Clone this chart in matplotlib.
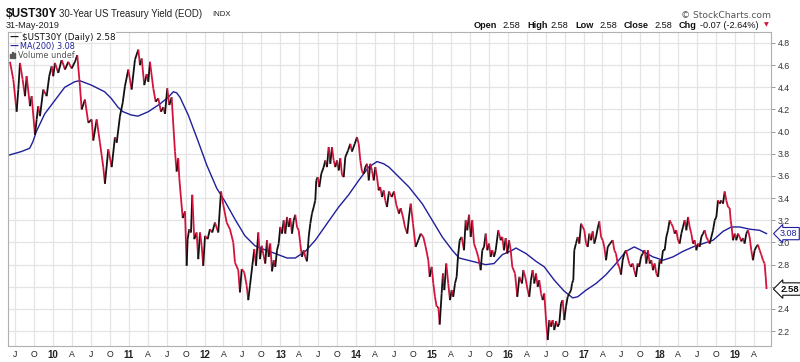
import numpy as np
import matplotlib
matplotlib.use("Agg")
import matplotlib.pyplot as plt
import matplotlib.transforms as mtransforms
from matplotlib.collections import LineCollection
from matplotlib.patches import Rectangle

# $UST30Y close: decimal year, yield (%)
yr = [2009.433, 2009.477, 2009.521, 2009.543, 2009.565, 2009.600, 2009.631, 2009.653, 2009.697, 2009.719,
      2009.763, 2009.785, 2009.806, 2009.829, 2009.872, 2009.917, 2009.951, 2009.983, 2010.004, 2010.026,
      2010.070, 2010.115, 2010.159, 2010.202, 2010.247, 2010.290, 2010.321, 2010.356, 2010.379, 2010.422,
      2010.466, 2010.511, 2010.532, 2010.577, 2010.620, 2010.664, 2010.686, 2010.730, 2010.775, 2010.818,
      2010.841, 2010.884, 2010.920, 2010.950, 2010.994, 2011.038, 2011.082, 2011.126,
      2011.148, 2011.171, 2011.205, 2011.237, 2011.258, 2011.280, 2011.324, 2011.355, 2011.390, 2011.425,
      2011.456, 2011.478, 2011.508, 2011.535, 2011.566, 2011.588, 2011.610, 2011.632, 2011.653, 2011.667,
      2011.689, 2011.712, 2011.742, 2011.764, 2011.777, 2011.798, 2011.821, 2011.838, 2011.864, 2011.896,
      2011.917, 2011.940, 2011.962, 2011.983, 2012.006, 2012.041, 2012.071, 2012.102, 2012.137, 2012.181,
      2012.217, 2012.247, 2012.292, 2012.335, 2012.379, 2012.401, 2012.445, 2012.467, 2012.490, 2012.524,
      2012.556, 2012.577, 2012.599, 2012.630, 2012.656, 2012.679, 2012.709, 2012.731, 2012.754,
      2012.801, 2012.823, 2012.846, 2012.867, 2012.890, 2012.912, 2012.933, 2012.956, 2012.978, 2012.999,
      2013.022, 2013.044, 2013.065, 2013.088, 2013.110, 2013.131, 2013.154, 2013.176, 2013.197, 2013.220,
      2013.242, 2013.263, 2013.285, 2013.308, 2013.329, 2013.351, 2013.374, 2013.395, 2013.417, 2013.440,
      2013.461, 2013.474, 2013.493, 2013.514, 2013.540, 2013.572, 2013.593, 2013.615, 2013.638, 2013.659,
      2013.681, 2013.704, 2013.725, 2013.747, 2013.770, 2013.791, 2013.813, 2013.836, 2013.857, 2013.893,
      2013.923, 2013.945, 2013.981, 2014.011, 2014.034, 2014.055, 2014.077, 2014.100, 2014.121, 2014.143,
      2014.166, 2014.187, 2014.209, 2014.232, 2014.253, 2014.275, 2014.297, 2014.318, 2014.341, 2014.363,
      2014.384, 2014.407, 2014.429,
      2014.433, 2014.469, 2014.499, 2014.530, 2014.565, 2014.588, 2014.618, 2014.644, 2014.675, 2014.697,
      2014.720, 2014.750, 2014.785, 2014.820, 2014.851, 2014.886, 2014.917, 2014.952, 2014.970, 2014.996,
      2015.018, 2015.040, 2015.062, 2015.084, 2015.102, 2015.128, 2015.145, 2015.163, 2015.189, 2015.215,
      2015.238, 2015.260, 2015.281, 2015.304, 2015.326, 2015.343, 2015.366, 2015.392, 2015.423, 2015.445,
      2015.466, 2015.489, 2015.511, 2015.532, 2015.555, 2015.585, 2015.611, 2015.643, 2015.664, 2015.687,
      2015.709, 2015.730, 2015.753, 2015.775, 2015.796, 2015.819, 2015.841, 2015.875, 2015.907, 2015.928,
      2015.950, 2015.973, 2015.994, 2016.017, 2016.039, 2016.060, 2016.096, 2016.126,
      2016.153, 2016.188, 2016.205, 2016.231, 2016.263, 2016.284, 2016.306, 2016.329, 2016.350, 2016.373,
      2016.395, 2016.416, 2016.439, 2016.461, 2016.482, 2016.505, 2016.527, 2016.548, 2016.571, 2016.593,
      2016.614, 2016.637, 2016.659, 2016.680, 2016.703, 2016.725, 2016.746, 2016.768, 2016.791, 2016.812,
      2016.835, 2016.848, 2016.865, 2016.878, 2016.900, 2016.923, 2016.944, 2016.967, 2016.989, 2017.010,
      2017.033, 2017.055, 2017.076, 2017.099, 2017.121, 2017.142, 2017.165, 2017.187, 2017.208, 2017.231,
      2017.253, 2017.274, 2017.297, 2017.319, 2017.349, 2017.385, 2017.406, 2017.428, 2017.450, 2017.471,
      2017.494, 2017.516, 2017.537, 2017.560, 2017.582, 2017.603, 2017.626, 2017.648, 2017.669, 2017.692,
      2017.714, 2017.735, 2017.758, 2017.780,
      2017.806, 2017.828, 2017.850, 2017.872, 2017.894, 2017.916, 2017.938, 2017.960, 2017.982, 2018.004,
      2018.026, 2018.048, 2018.070, 2018.092, 2018.114, 2018.136, 2018.158, 2018.180, 2018.202, 2018.224,
      2018.246, 2018.268, 2018.290, 2018.312, 2018.334, 2018.356, 2018.378, 2018.400, 2018.422, 2018.444,
      2018.466, 2018.488, 2018.510, 2018.532, 2018.554, 2018.576, 2018.598, 2018.620, 2018.642, 2018.664,
      2018.686, 2018.708, 2018.730, 2018.752, 2018.774, 2018.796, 2018.817, 2018.840, 2018.862, 2018.883,
      2018.906, 2018.928, 2018.941, 2018.954, 2018.971, 2018.994, 2019.015, 2019.037, 2019.059, 2019.081,
      2019.103, 2019.125, 2019.147, 2019.169, 2019.191, 2019.213, 2019.235, 2019.257, 2019.279, 2019.301,
      2019.323, 2019.345, 2019.367, 2019.389, 2019.403, 2019.414]

yld = [4.63, 4.47, 4.18, 4.38, 4.62, 4.47, 4.32, 4.50, 4.23, 4.32,
       3.97, 4.11, 4.23, 4.14, 4.38, 4.32, 4.50, 4.59, 4.50, 4.62,
       4.53, 4.65, 4.56, 4.63, 4.57, 4.63, 4.69, 4.41, 4.20, 4.29,
       4.08, 4.11, 3.92, 4.11, 3.90, 3.68, 3.53, 3.84, 3.68, 3.95,
       3.90, 4.14, 4.26, 4.41, 4.56, 4.38, 4.65, 4.74,
       4.60, 4.66, 4.42, 4.52, 4.45, 4.63, 4.39, 4.27, 4.30, 4.18,
       4.22, 4.16, 4.39, 4.24, 4.31, 4.06, 3.82, 3.64, 3.76, 3.58,
       3.40, 3.22, 3.28, 2.79, 3.03, 3.12, 3.09, 3.43, 3.03, 3.09,
       2.85, 3.09, 2.97, 2.79, 3.06, 3.03, 3.12, 3.09, 3.18, 3.09,
       3.46, 3.34, 3.18, 3.12, 3.00, 2.82, 2.75, 2.55, 2.76, 2.73,
       2.61, 2.48, 2.61, 2.79, 2.94, 2.79, 3.09, 2.85, 2.97,
       2.81, 3.02, 2.87, 2.99, 2.74, 2.84, 2.78, 2.93, 2.99, 3.14,
       3.08, 3.20, 3.08, 3.23, 3.14, 3.22, 3.08, 3.20, 3.25, 3.14,
       3.11, 2.99, 2.87, 2.93, 2.87, 2.83, 3.05, 3.17, 3.26, 3.32,
       3.38, 3.56, 3.59, 3.50, 3.62, 3.68, 3.74, 3.68, 3.86, 3.71,
       3.86, 3.74, 3.68, 3.74, 3.65, 3.76, 3.61, 3.59, 3.77, 3.83,
       3.89, 3.82, 3.89, 3.95, 3.89, 3.74, 3.64, 3.62, 3.68, 3.71,
       3.56, 3.71, 3.65, 3.56, 3.68, 3.59, 3.47, 3.50, 3.41, 3.47,
       3.38, 3.32, 3.44,
       3.46, 3.41, 3.46, 3.34, 3.26, 3.31, 3.23, 3.14, 3.08, 3.23,
       3.35, 3.17, 2.96, 3.02, 3.08, 3.05, 2.96, 2.84, 2.69, 2.78,
       2.63, 2.51, 2.42, 2.42, 2.26, 2.54, 2.72, 2.57, 2.81, 2.63,
       2.48, 2.57, 2.51, 2.63, 2.69, 2.87, 3.02, 3.05, 2.93, 3.20,
       3.11, 3.25, 3.05, 3.20, 2.99, 2.93, 2.87, 2.75, 2.93, 2.96,
       3.08, 2.93, 2.99, 2.87, 2.93, 2.87, 2.93, 3.11, 3.02, 3.05,
       2.93, 3.04, 2.90, 3.02, 2.93, 2.78, 2.72, 2.51,
       2.69, 2.63, 2.75, 2.69, 2.57, 2.51, 2.66, 2.75, 2.63, 2.72,
       2.60, 2.66, 2.54, 2.48, 2.54, 2.30, 2.12, 2.30, 2.24, 2.30,
       2.21, 2.29, 2.24, 2.27, 2.45, 2.48, 2.30, 2.42, 2.51, 2.54,
       2.57, 2.63, 2.66, 2.93, 2.99, 3.05, 2.99, 3.17, 3.14, 3.11,
       2.99, 2.96, 3.08, 3.02, 3.10, 2.99, 3.05, 3.13, 3.19, 3.05,
       3.02, 2.96, 2.84, 2.96, 2.99, 3.02, 2.93, 2.90, 2.81, 2.78,
       2.71, 2.84, 2.90, 2.93, 2.87, 2.81, 2.78, 2.81, 2.75, 2.69,
       2.81, 2.78, 2.87, 2.90,
       2.93, 2.81, 2.93, 2.81, 2.84, 2.75, 2.81, 2.72, 2.69, 2.84,
       2.81, 2.93, 2.93, 3.05, 3.11, 3.20, 3.17, 3.14, 3.08, 3.11,
       3.02, 2.99, 3.08, 3.14, 3.20, 3.11, 3.23, 3.14, 3.08, 2.99,
       3.02, 2.93, 2.99, 2.96, 3.05, 3.08, 3.11, 3.05, 3.02, 2.99,
       3.05, 3.11, 3.20, 3.23, 3.38, 3.35, 3.38, 3.35, 3.46, 3.38,
       3.32, 3.31, 3.20, 3.14, 3.02, 3.08, 3.02, 3.08, 3.05, 3.01,
       3.04, 2.99, 3.08, 3.11, 3.05, 2.93, 2.84, 2.93, 2.96, 2.98,
       2.93, 2.89, 2.84, 2.81, 2.69, 2.58]

# MA(200)
ma_yr = [2009.429, 2009.582, 2009.693, 2009.736, 2009.780, 2009.891, 2010.023, 2010.155, 2010.286, 2010.352,
         2010.506, 2010.682, 2010.769, 2010.858, 2010.924, 2011.033, 2011.122, 2011.258, 2011.412, 2011.521,
         2011.588, 2011.632, 2011.676, 2011.785, 2011.917, 2012.028, 2012.160, 2012.270, 2012.401, 2012.533,
         2012.665, 2012.775, 2012.933, 2013.088, 2013.197, 2013.329, 2013.461, 2013.615, 2013.770, 2013.901,
         2014.034, 2014.166, 2014.275, 2014.363, 2014.433, 2014.565, 2014.697, 2014.872, 2015.004, 2015.136,
         2015.268, 2015.357, 2015.532, 2015.709, 2015.819, 2015.928, 2016.060, 2016.109, 2016.241, 2016.373,
         2016.482, 2016.614, 2016.746, 2016.857, 2016.923, 2017.033, 2017.165, 2017.297, 2017.428, 2017.560,
         2017.669, 2017.758, 2017.916, 2018.048, 2018.180, 2018.312, 2018.444, 2018.576, 2018.708, 2018.840,
         2018.950, 2019.059, 2019.191, 2019.323, 2019.414]
ma_val = [3.79, 3.82, 3.85, 3.91, 4.00, 4.16, 4.28, 4.40, 4.45, 4.46,
          4.42, 4.36, 4.30, 4.22, 4.18, 4.15, 4.14, 4.18, 4.25, 4.31,
          4.36, 4.35, 4.31, 4.15, 3.91, 3.70, 3.49, 3.37, 3.21, 3.06,
          2.97, 2.94, 2.90, 2.86, 2.86, 2.92, 3.02, 3.17, 3.32, 3.43,
          3.56, 3.68, 3.73, 3.71, 3.68, 3.59, 3.50, 3.35, 3.20, 3.05,
          2.93, 2.86, 2.83, 2.80, 2.81, 2.89, 2.93, 2.95, 2.90, 2.83,
          2.78, 2.66, 2.56, 2.50, 2.51, 2.57, 2.63, 2.71, 2.81, 2.92,
          2.96, 2.93, 2.87, 2.84, 2.87, 2.92, 2.96, 2.99, 3.02, 3.10,
          3.14, 3.14, 3.12, 3.11, 3.08]

# quarterly x labels, Jul 2009 .. Apr 2019
x_lbl = ["J", "O", "10", "A", "J", "O", "11", "A", "J", "O", "12", "A", "J", "O", "13", "A",
         "J", "O", "14", "A", "J", "O", "15", "A", "J", "O", "16", "A", "J", "O", "17", "A",
         "J", "O", "18", "A", "J", "O", "19", "A"]
y_ticks = [2.2, 2.4, 2.6, 2.8, 3.0, 3.2, 3.4, 3.6, 3.8, 4.0, 4.2, 4.4, 4.6, 4.8]

last_close = 2.58
last_ma = 3.08

RED = "#d2143c"
BLUE = "#1f1f9c"
GRID = "#e4e4e4"

W, H = 800, 362
fig = plt.figure(figsize=(W / 100, H / 100), dpi=100)
fig.patch.set_facecolor("white")
ax = fig.add_axes([8 / W, 1 - 346 / H, (771 - 8) / W, (346 - 32) / H])

x_pos = [2009.5 + 0.25 * i for i in range(len(x_lbl))]
ax.set_xticks(x_pos)
ax.set_xticklabels(x_lbl, fontsize=6.3, family="Liberation Sans", color="#222222")
for t in ax.get_xticklabels():
    if t.get_text().isdigit():
        t.set_fontweight("bold")
        t.set_fontsize(7)
ax.tick_params(axis="x", length=0, pad=3)

# the 2.6 label sits under the last-close tag, as on the original
ax.yaxis.tick_right()
ax.set_yticks(y_ticks)
ax.set_yticklabels(["" if abs(v - 2.6) < 1e-9 else f"{v:.1f}" for v in y_ticks],
                   fontsize=6.3, family="Liberation Sans", color="#333333")
ax.tick_params(axis="y", length=3, width=0.6, color="#888888", pad=2)

ax.grid(True, color=GRID, linewidth=0.9)
ax.set_axisbelow(True)
for s in ax.spines.values():
    s.set_color("#b0b0b0")
    s.set_linewidth(0.8)

ax.set_xlim(2009.407, 2019.473)
ax.set_ylim(2.066, 4.899)

# moving average
ax.plot(ma_yr, ma_val, color=BLUE, linewidth=1.0, zorder=3)

# price line, black on up moves and red on down moves
pts = np.column_stack([yr, yld])
segs = np.stack([pts[:-1], pts[1:]], axis=1)
cols = [("#111111" if b >= a else RED) for a, b in zip(yld[:-1], yld[1:])]
ax.add_collection(LineCollection(segs, colors=cols, linewidths=1.3, zorder=4))

# value tags on the right
blend = mtransforms.blended_transform_factory(ax.transAxes, ax.transData)
ax.text(1.012, last_ma, f"{last_ma:.2f}", transform=blend, ha="left", va="center",
        fontsize=6.5, family="Liberation Sans", color=BLUE, zorder=10, clip_on=False,
        bbox=dict(boxstyle="larrow,pad=0.18", fc="white", ec=BLUE, lw=0.8))
ax.text(1.012, last_close, f"{last_close:.2f}", transform=blend, ha="left", va="center",
        fontsize=6.8, family="Liberation Sans", fontweight="bold", color="#111111", zorder=10,
        clip_on=False, bbox=dict(boxstyle="larrow,pad=0.18", fc="white", ec="#111111", lw=0.8))


def fx(px):
    return px / W


def fy(py):
    return 1 - py / H


# header
fig.text(fx(6), fy(14), "$UST30Y", fontsize=8.6, fontweight="bold", family="Liberation Sans",
         va="center", color="#111111")
fig.text(fx(59), fy(14), "30-Year US Treasury Yield (EOD)", fontsize=6.9, family="Liberation Sans",
         va="center", color="#222222")
fig.text(fx(212), fy(14.5), "INDX", fontsize=5.6, family="Liberation Sans", va="center", color="#222222")
fig.text(fx(6), fy(25), "31-May-2019", fontsize=6.6, family="Liberation Sans", va="center", color="#222222")

fig.text(fx(771), fy(15), "\u00a9 StockCharts.com", fontsize=6.6, family="DejaVu Sans", ha="right",
         va="center", color="#555555")
hdr = [(474, "Open", True), (502, "2.58", False), (527, "High", True), (550, "2.58", False),
       (575, "Low", True), (599, "2.58", False), (624, "Close", True), (654, "2.58", False),
       (679, "Chg", True), (700, "-0.07 (-2.64%)", False)]
for px, s, b in hdr:
    fig.text(fx(px), fy(25), s, fontsize=6.6, family="Liberation Sans",
             fontweight="bold" if b else "normal", va="center", color="#111111")
fig.text(fx(764), fy(25), "\u25bc", fontsize=4.5, family="DejaVu Sans", va="center", color=RED)

# legend block in the top-left of the plot
fig.text(fx(9), fy(37), "\u2014", fontsize=6.5, family="DejaVu Sans", fontweight="bold",
         va="center", color="#111111")
fig.text(fx(22), fy(37), "$UST30Y (Daily) 2.58", fontsize=6.3, family="DejaVu Sans",
         va="center", color="#111111", bbox=dict(fc="white", ec="none", pad=0.3))
fig.text(fx(9), fy(46), "\u2014", fontsize=6.5, family="DejaVu Sans", fontweight="bold",
         va="center", color=BLUE)
fig.text(fx(20), fy(46), "MA(200) 3.08", fontsize=5.9, family="DejaVu Sans",
         va="center", color=BLUE, bbox=dict(fc="white", ec="none", pad=0.3))
for i, h in enumerate([4, 6, 5]):
    fig.patches.append(Rectangle((fx(10 + 2 * i), fy(58)), 1.3 / W, h / H,
                                 transform=fig.transFigure, color="#555555", zorder=20))
fig.text(fx(18), fy(55), "Volume undef", fontsize=5.9, family="DejaVu Sans",
         va="center", color="#555555", bbox=dict(fc="white", ec="none", pad=0.3))

fig.savefig("out.png", dpi=100, facecolor="white")
